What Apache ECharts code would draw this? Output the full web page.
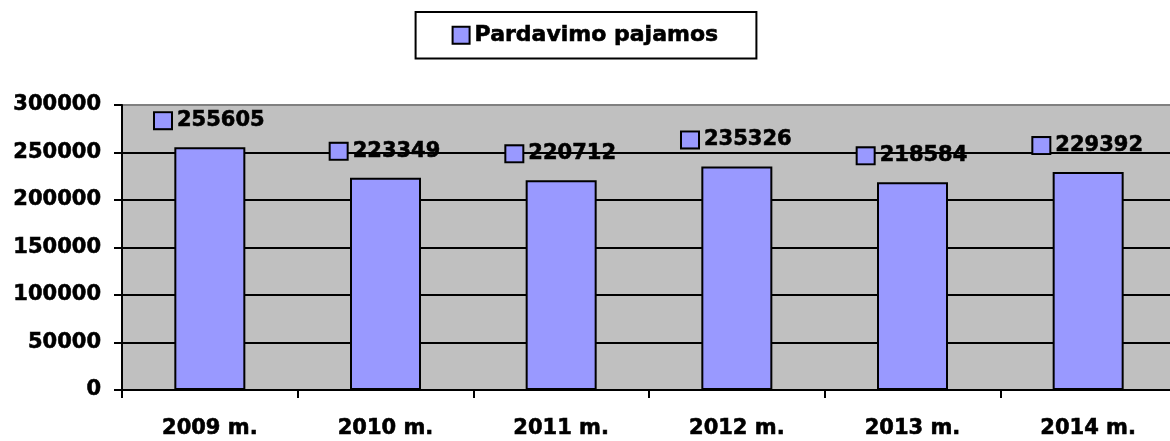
<!DOCTYPE html>
<html lang="lt">
<head>
    <meta charset="UTF-8">
    <title>Pardavimo pajamos</title>
    <script type="text/javascript" src="https://cdn.jsdelivr.net/npm/echarts@6/dist/echarts.min.js"></script>
    <style>
        html, body { margin: 0; padding: 0; background: #fff; }
        #div_echars { width: 1170px; height: 441px; }
    </style>
</head>
<body>
    <div id="div_echars"></div>
    <script type="text/javascript">
        // duomenys
        var years = ['2009 m.', '2010 m.', '2011 m.', '2012 m.', '2013 m.', '2014 m.'];
        var sales = [255605, 223349, 220712, 235326, 218584, 229392];
        var seriesName = 'Pardavimo pajamos';
        var yTicks = [0, 50000, 100000, 150000, 200000, 250000, 300000];

        var font = 'DejaVu Sans';
        // sustorintas sriftas, kad butu panasesnis i originala
        var txt = {
            fontFamily: font,
            fontWeight: 'bold',
            fontSize: 21,
            color: '#000',
            textBorderColor: '#000',
            textBorderWidth: 0.6
        };
        var myChart = echarts.init(document.getElementById('div_echars'));

        // paskutine (virsutine) linija pilka, kitos juodos
        var splitColors = yTicks.map(function (v, i) {
            return i === yTicks.length - 1 ? '#808080' : '#000000';
        });

        var option = {
            animation: false,
            color: ['#9999FF'],
            legend: {
                data: [seriesName],
                left: 'center',
                top: 12,
                padding: [12, 38, 12, 36],
                borderColor: '#000',
                borderWidth: 2,
                icon: 'rect',
                itemWidth: 17,
                itemHeight: 17,
                itemGap: 5,
                itemStyle: { borderColor: '#000', borderWidth: 2 },
                textStyle: Object.assign({}, txt, { fontSize: 22 })
            },
            grid: {
                left: 122,
                width: 1054,
                top: 105,
                bottom: 51,
                outerBoundsMode: 'none',
                containLabel: false,
                show: true,
                backgroundColor: '#C0C0C0',
                borderWidth: 0
            },
            xAxis: {
                type: 'category',
                data: years,
                axisLine: { lineStyle: { color: '#000', width: 2 } },
                axisTick: { show: true, length: 8, lineStyle: { color: '#000', width: 2 } },
                axisLabel: Object.assign({ margin: 28 }, txt)
            },
            yAxis: {
                type: 'value',
                min: 0,
                max: 300000,
                interval: 50000,
                axisLine: { show: true, lineStyle: { color: '#000', width: 2 } },
                axisTick: { show: true, length: 8, lineStyle: { color: '#000', width: 2 } },
                axisLabel: Object.assign({
                    margin: 21,
                    formatter: function (v) { return String(v); }
                }, txt),
                splitLine: { show: true, lineStyle: { color: splitColors, width: 2 } }
            },
            series: [
                {
                    name: seriesName,
                    type: 'bar',
                    data: sales,
                    barWidth: 71,
                    itemStyle: { color: '#9999FF', borderColor: '#000', borderWidth: 2 },
                    label: {
                        show: true,
                        position: 'top',
                        distance: 16,
                        formatter: '{k|}{v|{c}}',
                        rich: {
                            k: {
                                width: 16,
                                height: 15,
                                backgroundColor: '#9999FF',
                                borderColor: '#000',
                                borderWidth: 2
                            },
                            v: Object.assign({ padding: [0, 0, 0, 6] }, txt)
                        }
                    }
                }
            ]
        };
        myChart.setOption(option);
    </script>
</body>
</html>
